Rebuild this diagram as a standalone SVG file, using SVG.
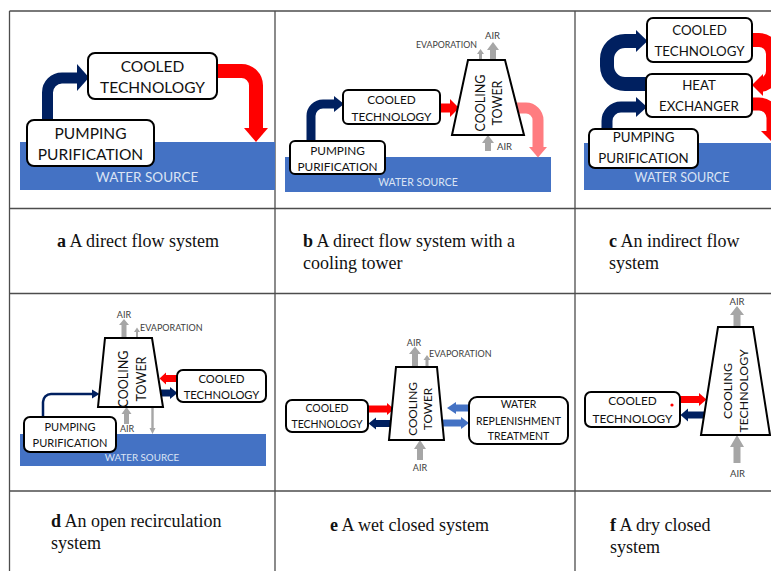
<svg xmlns="http://www.w3.org/2000/svg" width="771" height="571" viewBox="0 0 771 571">
<style>
.grid{stroke:#4d4d4d;stroke-width:1.3;fill:none}
.box{fill:#fff;stroke:#000;stroke-width:2}
.water{fill:#4472C4}
.wt{fill:#dbe4f4;font-family:Lato,"Noto Sans",sans-serif;text-anchor:middle}
.t{font-family:Lato,"Noto Sans",sans-serif;fill:#111;text-anchor:middle}
.s{font-family:Lato,"Noto Sans",sans-serif;fill:#404040}
.gray{fill:#A6A6A6}
.navy{stroke:#002060;fill:none}
.navyf{fill:#002060}
.red{stroke:#FF0000;fill:none}
.redf{fill:#FF0000}
.pink{stroke:#FF7C80;fill:none}
.pinkf{fill:#FF7C80}
.blue{stroke:#4472C4;fill:none}
.bluef{fill:#4472C4}
.cap{font-family:"Liberation Serif","Times New Roman",serif;font-size:18px;fill:#111}
</style>
<g id="table">
<path class="grid" d="M9.5,11 H771 M9.5,208.5 H771 M9.5,293.5 H771 M9.5,491 H771 M9.5,11 V571 M275,11 V571 M575,11 V571"/>
</g>
<g id="water-sources">
<g id="a-water"><rect class="water" x="20" y="142" width="255" height="48"/><text class="wt" x="147" y="182" font-size="13.5">WATER SOURCE</text></g>
<g id="b-water"><rect class="water" x="285" y="157" width="266" height="35"/><text class="wt" x="418" y="185.5" font-size="10.5">WATER SOURCE</text></g>
<g id="c-water"><rect class="water" x="584" y="143" width="187" height="47"/><text class="wt" x="682" y="181.5" font-size="12.5">WATER SOURCE</text></g>
<g id="d-water"><rect class="water" x="20" y="434" width="246" height="32"/><text class="wt" x="142" y="460.5" font-size="9.8">WATER SOURCE</text></g>
</g>
<g id="connectors">
<!-- panel a -->
<path class="navy" stroke-width="11" d="M47.5,121 V92.5 A14.5,14.5 0 0 1 62,78 H78"/>
<polygon class="navyf" points="77,64 89,77.5 77,91"/>
<path class="red" stroke-width="14" d="M216,71 H241.5 A14.5,14.5 0 0 1 256,85.5 V129"/>
<polygon class="redf" points="244,128 268,128 256,142"/>
<!-- panel b -->
<path class="navy" stroke-width="9" d="M311,142 V116 A12,12 0 0 1 323,104 H335"/>
<polygon class="navyf" points="334,96 344,104 334,112"/>
<path class="red" stroke-width="9" d="M439,108 H451"/>
<polygon class="redf" points="450,99 459,108 450,117"/>
<path class="pink" stroke-width="11" d="M515,108 H526 A12,12 0 0 1 538,120 V148"/>
<polygon class="pinkf" points="529,147 547,147 538,157.5"/>
<polygon class="gray" points="479,60 479,54 477,54 480.5,49 484,54 482,54 482,60"/>
<polygon class="gray" points="490,60 490,50 487,50 493,42 499,50 496,50 496,60"/>
<polygon class="gray" points="485,151 485,143 482,143 488,135 494,143 491,143 491,151"/>
<!-- panel c -->
<path class="navy" stroke-width="14" d="M648,84 H625 A18,18 0 0 1 607,66 V59 A18,18 0 0 1 625,41 H637"/>
<polygon class="navyf" points="636,30 647.5,41 636,52"/>
<path class="navy" stroke-width="11" d="M607,130 V121 A14,14 0 0 1 621,107 H637"/>
<polygon class="navyf" points="636,97 647,107 636,117"/>
<path class="red" stroke-width="14" d="M751,40 H759 A14,14 0 0 1 773,54 V71 A14,14 0 0 1 759,85 H763"/>
<polygon class="redf" points="763,74 752,85 763,96"/>
<path class="red" stroke-width="13" d="M751,104 H759 A14,14 0 0 1 773,118 V132"/>
<polygon class="redf" points="761,131 785,131 773,143"/>
<!-- panel d -->
<path class="navy" stroke-width="2.5" d="M43,418 V402 A8,8 0 0 1 51,394 H93"/>
<polygon class="navyf" points="92,389.5 99.5,394 92,398.5"/>
<path class="red" stroke-width="7" d="M178,378.5 H165"/>
<polygon class="redf" points="166,372.5 159.5,378.5 166,384.5"/>
<path class="navy" stroke-width="7" d="M160,393 H171"/>
<polygon class="navyf" points="170,387 177.5,393 170,399"/>
<polygon class="gray" points="121.5,338 121.5,325 119,325 124,319 129,325 126.5,325 126.5,338"/>
<polygon class="gray" points="136,338 136,332 134,332 137,327.5 140,332 138,332 138,338"/>
<polygon class="gray" points="124,424 124,414 121.5,414 126.5,407 131.5,414 129,414 129,424"/>
<polygon class="gray" points="151.3,407 151.3,428 149.5,428 152.5,434 155.5,428 153.7,428 153.7,407"/>
<!-- panel e -->
<path class="red" stroke-width="7" d="M367,409 H388"/>
<polygon class="redf" points="387,403 394,409 387,415"/>
<path class="navy" stroke-width="7" d="M391,423.5 H375"/>
<polygon class="navyf" points="376,417.5 368.5,423.5 376,429.5"/>
<path class="blue" stroke-width="7" d="M470,408 H455"/>
<polygon class="bluef" points="456,402 447,408 456,414"/>
<path class="blue" stroke-width="7" d="M443,423 H462"/>
<polygon class="bluef" points="461,417 469,423 461,429"/>
<polygon class="gray" points="412,367 412,354 409,354 415,346.5 421,354 418,354 418,367"/>
<polygon class="gray" points="425.5,367 425.5,360 423.5,360 427,355 430.5,360 428.5,360 428.5,367"/>
<polygon class="gray" points="417,460 417,449 414,449 420,440 426,449 423,449 423,460"/>
<!-- panel f -->
<path class="red" stroke-width="7" d="M679,399.5 H700"/>
<polygon class="redf" points="699,393 706.5,399.5 699,406"/>
<path class="navy" stroke-width="7" d="M704,415 H687"/>
<polygon class="navyf" points="688,408.5 680.5,415 688,421.5"/>
<polygon class="gray" points="733.5,327 733.5,315 730,315 737,306 744,315 740.5,315 740.5,327"/>
<polygon class="gray" points="733.5,463 733.5,447 730,447 737,435 744,447 740.5,447 740.5,463"/>
</g>
<g id="a-pumping"><rect class="box" x="27" y="120" width="127" height="46" rx="7" stroke-width="2.5"/><text class="t" x="90.5" y="138.5" font-size="15.5">PUMPING</text><text class="t" x="90.5" y="159.5" font-size="15.5">PURIFICATION</text></g>
<g id="a-cooled"><rect class="box" x="88" y="53" width="129" height="46" rx="7" stroke-width="2.5"/><text class="t" x="152.5" y="71.5" font-size="15.5">COOLED</text><text class="t" x="152.5" y="92.5" font-size="15.5">TECHNOLOGY</text></g>
<g id="b-pumping"><rect class="box" x="290" y="141" width="95" height="33" rx="5"/><text class="t" x="337.5" y="154.5" font-size="11.8">PUMPING</text><text class="t" x="337.5" y="170.5" font-size="11.8">PURIFICATION</text></g>
<g id="b-cooled"><rect class="box" x="343" y="90" width="97" height="34" rx="5"/><text class="t" x="391.5" y="103.5" font-size="11.8">COOLED</text><text class="t" x="391.5" y="120.5" font-size="11.8">TECHNOLOGY</text></g>
<g id="b-tower"><polygon class="box" points="468,60 505,60 524,135 452,135"/><text class="t" font-size="12.5" transform="translate(480.5,103) rotate(-90)" y="4.5">COOLING</text><text class="t" font-size="12.5" transform="translate(497,103) rotate(-90)" y="4.5">TOWER</text></g>
<g id="b-labels"><text class="s" x="477" y="48" font-size="8.8" text-anchor="end">EVAPORATION</text><text class="s" x="485" y="38.5" font-size="9.5">AIR</text><text class="s" x="497" y="150" font-size="9.5">AIR</text></g>
<g id="c-pumping"><rect class="box" x="589" y="129" width="109" height="39" rx="6" stroke-width="2.3"/><text class="t" x="643.5" y="142" font-size="13.3">PUMPING</text><text class="t" x="643.5" y="163" font-size="13.3">PURIFICATION</text></g>
<g id="c-cooled"><rect class="box" x="647" y="18" width="105" height="44" rx="6" stroke-width="2.3"/><text class="t" x="699.5" y="35" font-size="13.3">COOLED</text><text class="t" x="699.5" y="56" font-size="13.3">TECHNOLOGY</text></g>
<g id="c-exchanger"><rect class="box" x="646" y="74" width="106" height="43" rx="6" stroke-width="2.3"/><text class="t" x="699" y="90" font-size="13.3">HEAT</text><text class="t" x="699" y="111" font-size="13.3">EXCHANGER</text></g>
<g id="d-pumping"><rect class="box" x="24" y="417" width="92" height="35" rx="6"/><text class="t" x="70" y="431" font-size="11">PUMPING</text><text class="t" x="70" y="447" font-size="11">PURIFICATION</text></g>
<g id="d-tower"><polygon class="box" points="105,338 152,338 163,407 98,407"/><text class="t" font-size="12.5" transform="translate(123.5,379) rotate(-90)" y="4.5">COOLING</text><text class="t" font-size="12.5" transform="translate(141.5,379) rotate(-90)" y="4.5">TOWER</text></g>
<g id="d-cooled"><rect class="box" x="177" y="370" width="89" height="32" rx="6"/><text class="t" x="221.5" y="382.5" font-size="11.2">COOLED</text><text class="t" x="221.5" y="398.5" font-size="11.2">TECHNOLOGY</text></g>
<g id="d-labels"><text class="s" x="124" y="317.5" font-size="9" text-anchor="middle">AIR</text><text class="s" x="140" y="330.5" font-size="9">EVAPORATION</text><text class="s" x="120" y="432" font-size="9">AIR</text></g>
<g id="e-cooled"><rect class="box" x="286" y="400" width="82" height="32" rx="6"/><text class="t" x="327" y="412" font-size="10.5">COOLED</text><text class="t" x="327" y="428" font-size="10.5">TECHNOLOGY</text></g>
<g id="e-tower"><polygon class="box" points="396,367 437,367 444,440 389,440"/><text class="t" font-size="11.8" transform="translate(412.5,409) rotate(-90)" y="4.2">COOLING</text><text class="t" font-size="11.8" transform="translate(427.5,409) rotate(-90)" y="4.2">TOWER</text></g>
<g id="e-replenishment"><rect class="box" x="469" y="397" width="99" height="47" rx="8"/><text class="t" x="518.5" y="408" font-size="10.5">WATER</text><text class="t" x="518.5" y="425" font-size="10.5">REPLENISHMENT</text><text class="t" x="518.5" y="440" font-size="10.5">TREATMENT</text></g>
<g id="e-labels"><text class="s" x="414" y="345.5" font-size="9" text-anchor="middle">AIR</text><text class="s" x="429" y="356.5" font-size="9">EVAPORATION</text><text class="s" x="420" y="470.5" font-size="9" text-anchor="middle">AIR</text></g>
<g id="f-cooled"><rect class="box" x="585" y="392" width="95" height="35" rx="6"/><text class="t" x="632.5" y="404.5" font-size="11.8">COOLED</text><text class="t" x="632.5" y="422.5" font-size="11.8">TECHNOLOGY</text><circle cx="672" cy="405" r="1.6" fill="#FF0000"/></g>
<g id="f-tower"><polygon class="box" points="718,327 753,327 770,435 701,435"/><text class="t" font-size="12.3" transform="translate(727.5,391) rotate(-90)" y="4.4">COOLING</text><text class="t" font-size="12.3" transform="translate(743.5,391) rotate(-90)" y="4.4">TECHNOLOGY</text></g>
<g id="f-labels"><text class="s" x="737" y="304.5" font-size="9.5" text-anchor="middle">AIR</text><text class="s" x="737.5" y="477" font-size="9.5" text-anchor="middle">AIR</text></g>
<g id="captions">
<text class="cap" x="57" y="247"><tspan font-weight="bold">a</tspan> A direct flow system</text>
<text class="cap" x="303" y="247"><tspan font-weight="bold">b</tspan> A direct flow system with a</text>
<text class="cap" x="303" y="269">cooling tower</text>
<text class="cap" x="609" y="247"><tspan font-weight="bold">c</tspan> An indirect flow</text>
<text class="cap" x="609" y="269">system</text>
<text class="cap" x="51" y="527"><tspan font-weight="bold">d</tspan> An open recirculation</text>
<text class="cap" x="51" y="549">system</text>
<text class="cap" x="330" y="531"><tspan font-weight="bold">e</tspan> A wet closed system</text>
<text class="cap" x="610" y="531"><tspan font-weight="bold">f</tspan> A dry closed</text>
<text class="cap" x="610" y="553">system</text>
</g>
</svg>
